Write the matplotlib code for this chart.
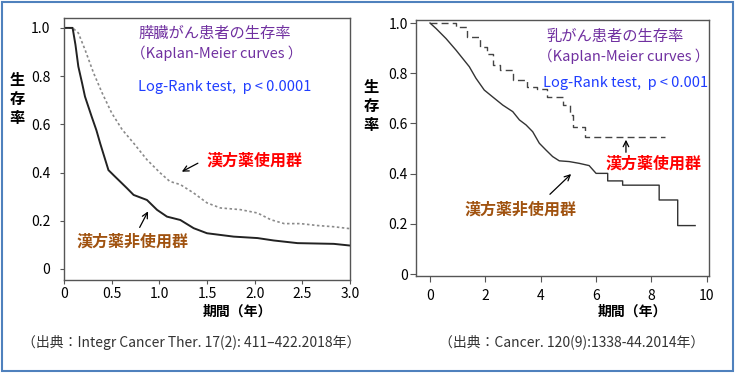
import matplotlib.pyplot as plt
import matplotlib.patches as patches

plt.rcParams['font.family'] = ['Noto Sans CJK JP', 'DejaVu Sans']

# 膵臓がん (left panel)
panc_t_user = [0, 0.09, 0.15, 0.22, 0.31, 0.40, 0.50, 0.61, 0.73, 0.87, 1.01, 1.11, 1.22,
               1.36, 1.50, 1.64, 1.85, 2.03, 2.17, 2.31, 2.48, 2.66, 2.83, 3.0]
panc_s_user = [1.0, 1.0, 0.979, 0.91, 0.813, 0.73, 0.647, 0.578, 0.522, 0.453, 0.398, 0.363, 0.35,
               0.315, 0.274, 0.253, 0.246, 0.232, 0.204, 0.188, 0.188, 0.18, 0.175, 0.167]
panc_t_non = [0, 0.09, 0.12, 0.15, 0.19, 0.22, 0.29, 0.34, 0.38, 0.466, 0.53, 0.59, 0.66, 0.73,
              0.87, 0.976, 1.08, 1.22, 1.36, 1.50, 1.78, 2.03, 2.2, 2.45, 2.83, 3.0]
panc_s_non = [1.0, 1.0, 0.93, 0.84, 0.77, 0.715, 0.632, 0.575, 0.52, 0.41, 0.385, 0.362, 0.335,
              0.307, 0.286, 0.245, 0.217, 0.203, 0.169, 0.148, 0.134, 0.128, 0.118, 0.107, 0.104, 0.097]

# 乳がん (right panel)
br_t_user = [0, 0.94, 1.33, 1.81, 2.05, 2.29, 2.53, 3.01, 3.49, 3.85, 4.22, 4.82, 5.06, 5.18, 5.6, 8.49]
br_s_user = [1.0, 0.984, 0.944, 0.905, 0.878, 0.832, 0.812, 0.772, 0.746, 0.739, 0.706, 0.673,
             0.633, 0.587, 0.547, 0.547]
br_t_non = [0, 0.22, 0.58, 0.94, 1.18, 1.42, 1.66, 1.96, 2.26, 2.63, 2.99, 3.23, 3.47, 3.71, 3.95,
            4.19, 4.43, 4.67, 5.03, 5.39, 5.75, 6.0, 6.42, 6.42, 6.96, 6.96, 8.28, 8.28, 8.95, 8.95, 9.58]
br_s_non = [1.0, 0.978, 0.938, 0.892, 0.859, 0.826, 0.78, 0.733, 0.706, 0.673, 0.647, 0.614, 0.594,
            0.567, 0.521, 0.494, 0.468, 0.451, 0.448, 0.441, 0.432, 0.401, 0.401, 0.371, 0.371,
            0.354, 0.354, 0.295, 0.295, 0.193, 0.193]

y_ticks = [0, 0.2, 0.4, 0.6, 0.8, 1.0]
y_labels = ['0', '0.2', '0.4', '0.6', '0.8', '1.0']
panc_x_ticks = [0, 0.5, 1.0, 1.5, 2.0, 2.5, 3.0]
panc_x_labels = ['0', '0.5', '1.0', '1.5', '2.0', '2.5', '3.0']
br_x_ticks = [0, 2, 4, 6, 8, 10]

purple = '#7030A0'
blue = '#1F3DFF'
red = '#FF0000'
brown = '#A0520F'

fig = plt.figure(figsize=(7.35, 3.73), dpi=100)

# left panel
ax1 = fig.add_axes([0.0871, 0.2493, 0.3891, 0.7024])
ax1.plot(panc_t_user, panc_s_user, color='#8a8a8a', lw=1.2, ls=(0, (1.5, 1.5)))
ax1.plot(panc_t_non, panc_s_non, color='#222222', lw=1.4)
ax1.set_xlim(0, 3.0)
ax1.set_ylim(-0.046, 1.041)
ax1.set_xticks(panc_x_ticks, panc_x_labels)
ax1.set_yticks(y_ticks, y_labels)
ax1.tick_params(axis='y', length=3, pad=7, labelsize=10, color='#555555')
ax1.tick_params(axis='x', length=3, pad=2, labelsize=10, color='#555555')

ax1.text(0.78, 0.975, '膵臓がん患者の生存率', color=purple, fontsize=11, va='center')
ax1.text(0.70, 0.895, '（Kaplan-Meier curves ）', color=purple, fontsize=10.5, va='center')
ax1.text(0.78, 0.755, 'Log-Rank test,  p < 0.0001', color=blue, fontsize=10.5, va='center')
ax1.text(1.49, 0.45, '漢方薬使用群', color=red, fontsize=11.5, fontweight='bold', va='center')
ax1.annotate('', xy=(1.21, 0.398), xytext=(1.43, 0.444),
             arrowprops=dict(arrowstyle='->', color='black', lw=0.9))
ax1.text(0.13, 0.115, '漢方薬非使用群', color=brown, fontsize=11.5, fontweight='bold', va='center')
ax1.annotate('', xy=(0.895, 0.249), xytext=(0.78, 0.162),
             arrowprops=dict(arrowstyle='->', color='black', lw=0.9))

# right panel
ax2 = fig.add_axes([0.566, 0.26, 0.3986, 0.6863])
ax2.plot(br_t_user, br_s_user, color='#444444', lw=1.0, ls=(0, (5, 3)), drawstyle='steps-post')
ax2.plot(br_t_non, br_s_non, color='#333333', lw=1.0)
ax2.set_xlim(-0.506, 10.08)
ax2.set_ylim(-0.008, 1.012)
ax2.set_xticks(br_x_ticks)
ax2.set_yticks(y_ticks, y_labels)
ax2.tick_params(axis='y', length=4, pad=2, labelsize=10, color='#555555')
ax2.tick_params(axis='x', length=4, pad=5, labelsize=10, color='#555555')

ax2.text(4.2, 0.945, '乳がん患者の生存率', color=purple, fontsize=11, va='center')
ax2.text(3.9, 0.866, '（Kaplan-Meier curves ）', color=purple, fontsize=10.5, va='center')
ax2.text(4.1, 0.76, 'Log-Rank test,  p < 0.001', color=blue, fontsize=10.5, va='center')
ax2.text(6.35, 0.442, '漢方薬使用群', color=red, fontsize=11.5, fontweight='bold', va='center')
ax2.annotate('', xy=(7.08, 0.546), xytext=(7.08, 0.474),
             arrowprops=dict(arrowstyle='->', color='black', lw=0.9))
ax2.text(1.25, 0.255, '漢方薬非使用群', color=brown, fontsize=11.5, fontweight='bold', va='center')
ax2.annotate('', xy=(5.17, 0.406), xytext=(4.26, 0.31),
             arrowprops=dict(arrowstyle='->', color='black', lw=0.9))

for ax in (ax1, ax2):
    for s in ax.spines.values():
        s.set_color('#555555')
        s.set_linewidth(1.0)

# axis labels
fig.text(17 / 735, 1 - 99 / 373, '生\n存\n率', fontsize=11, fontweight='bold',
         ha='center', va='center', linespacing=1.2)
fig.text(371 / 735, 1 - 106 / 373, '生\n存\n率', fontsize=11, fontweight='bold',
         ha='center', va='center', linespacing=1.2)
fig.text(237 / 735, 1 - 312 / 373, '期間（年）', fontsize=10, fontweight='bold', ha='center', va='center')
fig.text(632 / 735, 1 - 312 / 373, '期間（年）', fontsize=10, fontweight='bold', ha='center', va='center')

# sources
fig.text(191 / 735, 1 - 342 / 373, '（出典：Integr Cancer Ther. 17(2): 411–422.2018年）',
         fontsize=10, color='#333333', ha='center', va='center')
fig.text(572 / 735, 1 - 342 / 373, '（出典：Cancer. 120(9):1338-44.2014年）',
         fontsize=10, color='#333333', ha='center', va='center')

# outer frame
fig.patches.append(patches.Rectangle((1.5 / 735, 2 / 373), 731 / 735, 369 / 373,
                                     transform=fig.transFigure, fill=False,
                                     edgecolor='#4F81BD', lw=1.5))

fig.savefig('out.png', dpi=100)
